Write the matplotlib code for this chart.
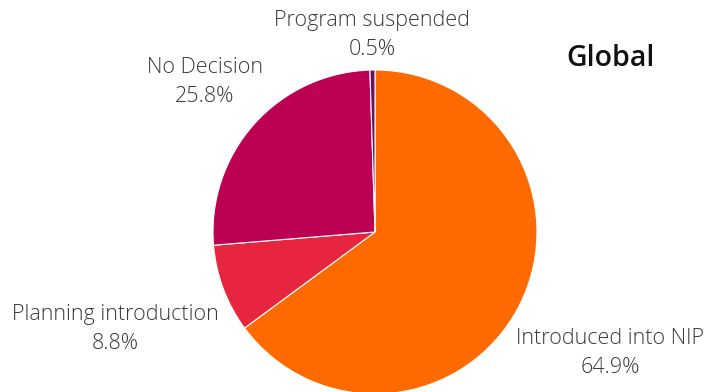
import matplotlib.pyplot as plt

# share of countries by vaccine introduction status
categories = ['Introduced into NIP', 'Planning introduction', 'No Decision', 'Program suspended']
shares = [64.9, 8.8, 25.8, 0.5]
colors = ['#FF6A00', '#E8253F', '#BC0052', '#6B0F5E']

# label anchor points in pixel space (x, y from top)
label_pos = {
    'Introduced into NIP': (610, 353),
    'Planning introduction': (115, 329),
    'No Decision': (205, 82),
    'Program suspended': (372, 35),
}

W, H = 720, 392
fig = plt.figure(figsize=(W / 100, H / 100), dpi=100)
ax = fig.add_axes([0, 0, 1, 1])

ax.pie(shares, colors=colors, startangle=90, counterclock=False,
       center=(375, H - 232), radius=162,
       wedgeprops=dict(edgecolor='white', linewidth=0.8))
ax.set_xlim(0, W)
ax.set_ylim(0, H)
ax.set_aspect('equal')
ax.axis('off')

for cat, val in zip(categories, shares):
    x, y = label_pos[cat]
    ax.text(x, H - y, f'{cat}\n{val}%', ha='center', va='center',
            fontsize=15.5, family='Open Sans', fontweight='light',
            color='#3a3a3a', linespacing=1.48)

ax.text(611, H - 58, 'Global', ha='center', va='center', fontsize=20.5,
        family='Open Sans', fontweight='semibold', color='#111111')

fig.savefig('out.png', dpi=100)
